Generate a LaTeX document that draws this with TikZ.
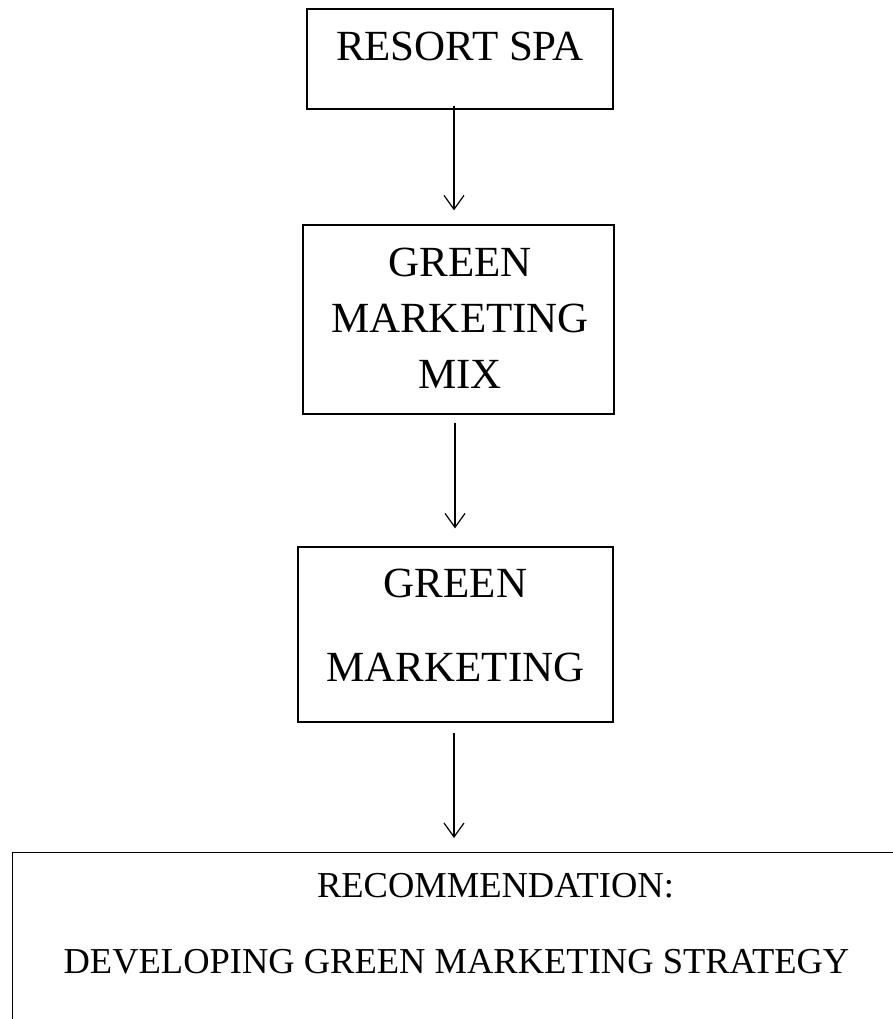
\documentclass[tikz,border=0pt]{standalone}
\usepackage{fontspec}
\setmainfont{Liberation Serif}
\usetikzlibrary{arrows.meta}

\begin{document}
\begin{tikzpicture}[x=1pt, y=-1pt,
		box/.style = {draw, line width=1.2pt, inner sep=0pt},
		lbl/.style = {inner sep=0pt, align=center},
		arr/.style = {line width=1.2pt, -{Straight Barb[length=14pt, width=20pt, line width=1.2pt]}}]
				\useasboundingbox (0,0) rectangle (893,1019);
				\clip (0,0) rectangle (893,1019);
				% boxes
				\node[box, minimum width=306pt, minimum height=100pt] (spa) at (460,59) {};
				\node[box, minimum width=311pt, minimum height=189pt] (mix) at (458.5,319.5) {};
				\node[box, minimum width=315pt, minimum height=175pt] (green) at (455.5,634.5) {};
				\node[box, minimum width=950pt, minimum height=250pt, anchor=north west] (rec) at (12,852) {};
				% texts
				\node[lbl, anchor=base, font=\fontsize{43}{56}\selectfont] (spatxt) at (460,61) {RESORT SPA};
				\node[lbl, anchor=north, font=\fontsize{43}{56}\selectfont] (mixtxt) at (460,248) {GREEN\\MARKETING\\MIX};
				\node[lbl, anchor=north, font=\fontsize{43}{84}\selectfont] (greentxt) at (455.5,569) {GREEN\\MARKETING};
				\node[lbl, anchor=base, font=\fontsize{36.5}{44}\selectfont] (rectxt) at (495.5,897) {RECOMMENDATION:};
				\node[lbl, anchor=base, font=\fontsize{36.5}{44}\selectfont] (devtxt) at (456.5,973) {DEVELOPING GREEN MARKETING STRATEGY};
				% arrows
				\draw[arr] ([xshift=-6pt, yshift=4pt]spa.south) -- ([xshift=-4.5pt, yshift=14pt]mix.north);
				\draw[arr] ([xshift=-3.5pt, yshift=-8pt]mix.south) -- ([xshift=-0.5pt, yshift=18pt]green.north);
				\draw[arr] ([xshift=-1.5pt, yshift=-10pt]green.south) -- ([xshift=442pt, yshift=14pt]rec.north west);
\end{tikzpicture}
\end{document}
